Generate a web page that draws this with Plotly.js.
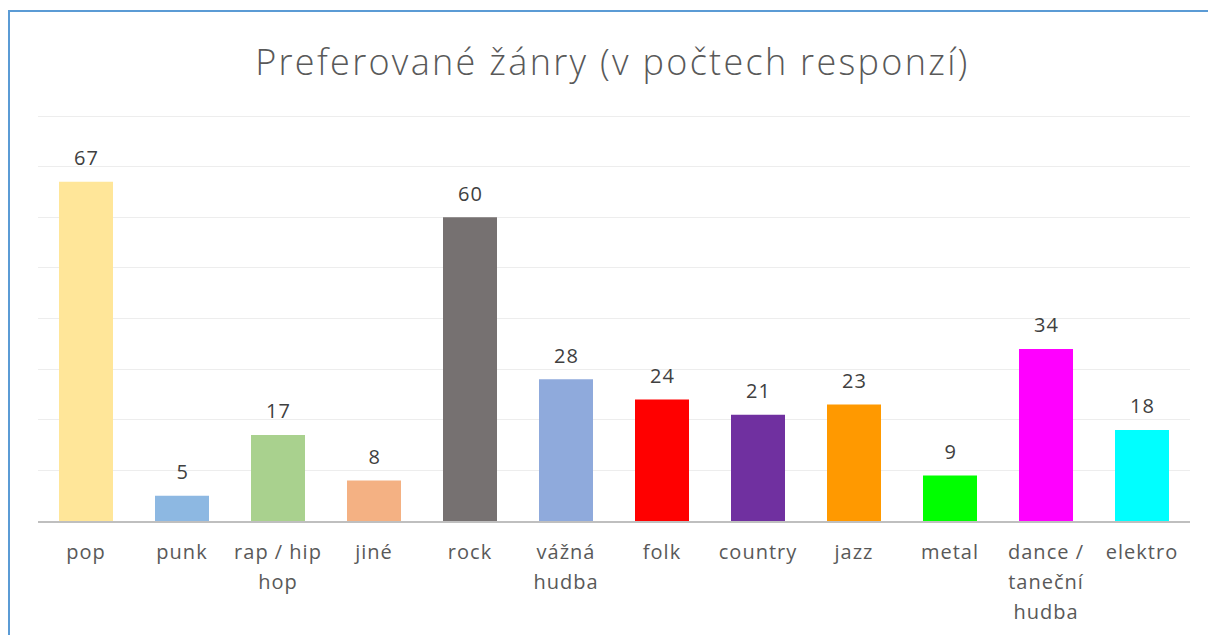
<!DOCTYPE html>
<html>
<head>
<meta charset="utf-8">
<script src="https://cdn.plot.ly/plotly-3.0.1.min.js"></script>
<style>
  html, body { margin: 0; padding: 0; background: #fff; }
  #wrap { position: relative; width: 1208px; height: 635px; overflow: hidden; }
  #chart { position: absolute; left: 0; top: 0; width: 1208px; height: 635px; }
  #frame { position: absolute; left: 8px; top: 10px; width: 1300px; height: 700px;
           border-left: 2px solid #5B9BD5; border-top: 2px solid #5B9BD5; pointer-events: none; }
  #chart .gtitle { letter-spacing: 2.3px; }
  #chart .xtick text { letter-spacing: 1px; }
  #chart .annotation-text { letter-spacing: 1px; }
</style>
</head>
<body>
<div id="wrap">
  <div id="chart"></div>
  <div id="frame"></div>
</div>
<script>
const categories = ["pop", "punk", "rap / hip<br>hop", "jiné", "rock", "vážná<br>hudba", "folk", "country", "jazz", "metal", "dance /<br>taneční<br>hudba", "elektro"];
const values = [67, 5, 17, 8, 60, 28, 24, 21, 23, 9, 34, 18];
const colors = ["#FFE699", "#8DB8E2", "#A9D18E", "#F4B183", "#767171", "#8FAADC", "#FF0000", "#7030A0", "#FF9900", "#00FF00", "#FF00FF", "#00FFFF"];

const trace = {
  type: "bar",
  x: categories,
  y: values,
  marker: { color: colors },
  width: 0.5625,
  hoverinfo: "none"
};

const annotations = categories.map((c, i) => ({
  x: c,
  y: values[i],
  xref: "x",
  yref: "y",
  text: String(values[i]),
  showarrow: false,
  xanchor: "center",
  yanchor: "middle",
  yshift: 24,
  font: { family: "Open Sans", size: 20, color: "#404040" }
}));

const layout = {
  width: 1208,
  height: 635,
  margin: { l: 38, r: 18, t: 115, b: 114 },
  paper_bgcolor: "#ffffff",
  plot_bgcolor: "#ffffff",
  showlegend: false,
  annotations: annotations,
  title: {
    text: "Preferované žánry (v počtech responzí)",
    font: { family: "Open Sans", size: 36, color: "#595959", weight: 300 },
    x: 0.507, xanchor: "center",
    y: 0.902, yanchor: "middle"
  },
  xaxis: {
    type: "category",
    showgrid: false,
    showline: true,
    linecolor: "#BFBFBF",
    linewidth: 2,
    ticks: "",
    ticklabelstandoff: 12,
    tickfont: { family: "Open Sans", size: 20, color: "#595959" },
    fixedrange: true
  },
  yaxis: {
    range: [0, 80.2],
    dtick: 10,
    showgrid: true,
    gridcolor: "#EDEDED",
    gridwidth: 1,
    zeroline: false,
    showticklabels: false,
    ticks: "",
    fixedrange: true
  }
};

Plotly.newPlot("chart", [trace], layout, { displayModeBar: false, staticPlot: true }).then(() => {
  // widen the line spacing of multi-line category labels
  document.querySelectorAll("#chart .xtick text tspan.line").forEach(t => {
    const dy = t.getAttribute("dy");
    if (dy && dy.endsWith("em")) {
      const v = parseFloat(dy);
      if (v > 0) t.setAttribute("dy", (v * 1.16).toFixed(3) + "em");
    }
  });
});
</script>
</body>
</html>
